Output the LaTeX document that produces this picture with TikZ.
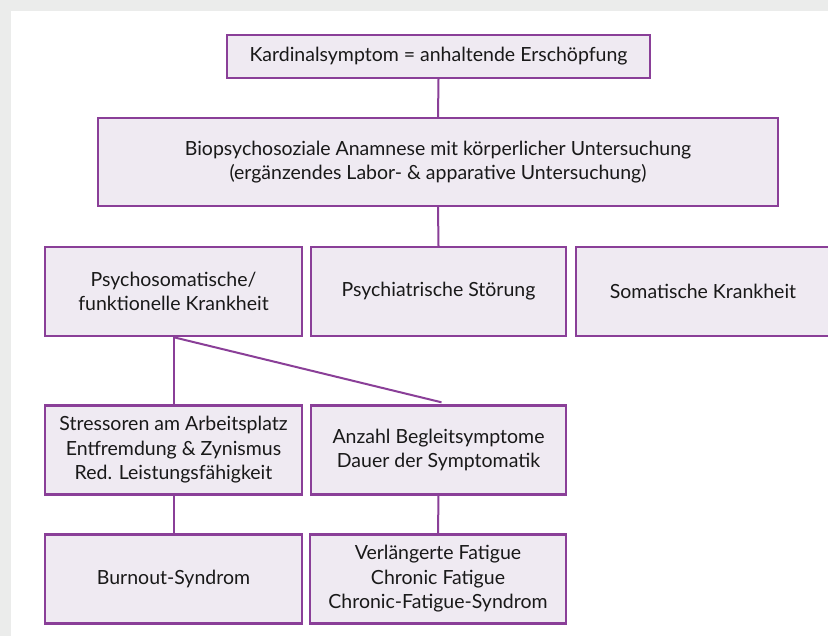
\documentclass[tikz,border=0pt]{standalone}
\usepackage{fontspec}
\setmainfont{Lato}
\usetikzlibrary{calc}
\definecolor{bggray}{HTML}{EBECEB}
\definecolor{boxfill}{HTML}{EFEAF2}
\definecolor{lila}{HTML}{8A3F98}
\tikzset{
  box/.style={draw=lila, fill=boxfill, line width=2.4pt, rectangle, align=center,
    inner sep=0pt, font=\fontsize{19.5}{24.5}\selectfont, text=black!90},
  link/.style={draw=lila, line width=2pt}
}
\begin{document}
\begin{tikzpicture}[x=1pt,y=-1pt]
\clip (0,0) rectangle (828,636);
\fill[bggray] (0,0) rectangle (828,636);
\fill[white] (11,11) rectangle (830,640);
% row 1
\node[box, minimum width=423pt, minimum height=43pt] (b1) at (438.5,56.5) {Kardinalsymptom = anhaltende Erschöpfung};
% row 2
\node[box, minimum width=680pt, minimum height=88pt] (b2) at (438,162) {Biopsychosoziale Anamnese mit körperlicher Untersuchung\\(ergänzendes Labor- \& apparative Untersuchung)};
% row 3
\node[box, minimum width=257pt, minimum height=89pt] (b3a) at (173.5,291.5) {Psychosomatische/\\funktionelle Krankheit};
\node[box, minimum width=255pt, minimum height=89pt] (b3b) at (438.5,291.5) {Psychiatrische Störung};
\node[box, minimum width=254pt, minimum height=89pt] (b3c) at (703,291.5) {Somatische Krankheit};
% row 4
\node[box, minimum width=257pt, minimum height=89pt] (b4a) at (173.5,450) {Stressoren am Arbeitsplatz\\Entfremdung \& Zynismus\\Red. Leistungsfähigkeit};
\node[box, minimum width=255pt, minimum height=89pt] (b4b) at (438.5,450) {Anzahl Begleitsymptome\\Dauer der Symptomatik};
% row 5
\node[box, minimum width=257pt, minimum height=89pt] (b5a) at (173.5,579) {Burnout-Syndrom};
\node[box, minimum width=256pt, minimum height=89pt] (b5b) at (438,579) {Verlängerte Fatigue\\Chronic Fatigue\\Chronic-Fatigue-Syndrom};
% connectors
\draw[link] (b1.south) -- (b2.north);
\draw[link] (b2.south) -- (b3b.north);
\draw[link] (b3a.south) -- (b4a.north);
\draw[link] (b3a.south) -- ($(b4b.north)+(3,-2)$);
\draw[link] (b4a.south) -- (b5a.north);
\draw[link] (b4b.south) -- (b5b.north);
\end{tikzpicture}
\end{document}
